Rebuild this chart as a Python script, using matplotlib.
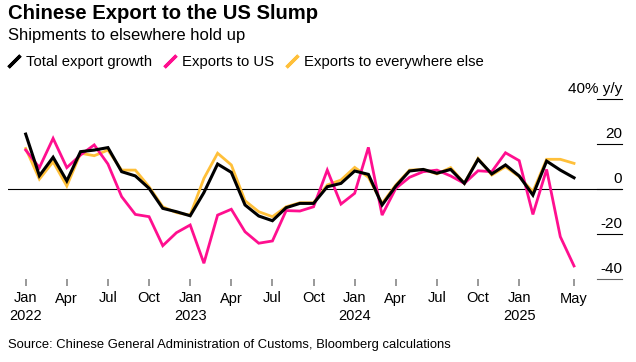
import pandas as pd
import matplotlib
matplotlib.use("Agg")
import matplotlib.pyplot as plt
from matplotlib.lines import Line2D
from matplotlib import transforms

plt.rcParams['font.family'] = ['Liberation Sans', 'DejaVu Sans']

# monthly, Jan 2022 - May 2025, % y/y
months = pd.date_range('2022-01-01', '2025-05-01', freq='MS')
total = [24.4, 5.9, 14.1, 3.6, 16.6, 17.3, 18.4, 7.7, 5.8, 0.3, -8.6, -10.1,
         -11.9, -1.6, 11.1, 7.4, -7.1, -12.0, -14.1, -8.3, -6.4, -6.4, 1.0, 2.5,
         8.0, 6.5, -7.1, 1.3, 8.0, 8.7, 7.0, 8.7, 2.5, 13.2, 6.7, 10.7,
         5.8, -2.7, 12.4, 8.4, 5.0]
to_us = [17.3, 9.5, 22.5, 9.5, 15.1, 19.6, 11.1, -3.4, -11.3, -12.3, -25.2, -19.4,
         -16.0, -33.0, -11.6, -9.0, -19.0, -24.1, -23.1, -9.6, -9.8, -7.9, 8.4, -6.7,
         -1.9, 18.5, -11.6, 0.3, 5.2, 7.7, 8.4, 5.8, 2.5, 8.1, 7.7, 16.1,
         12.6, -11.3, 8.7, -21.2, -34.2]
elsewhere = [18.0, 4.4, 12.1, 1.3, 15.9, 14.8, 17.3, 8.4, 8.4, 1.0, -7.9, -10.5,
             -11.6, 4.7, 15.9, 10.7, -5.2, -10.1, -12.3, -7.9, -6.1, -6.1, 1.8, 4.0,
             9.6, 5.2, -6.4, 1.8, 8.4, 8.7, 6.7, 9.5, 2.5, 13.6, 6.2, 9.9,
             5.5, -1.2, 13.2, 13.2, 11.4]

y_ticks = [40, 20, 0, -20, -40]
y_labels = ['40% y/y', '20', '0', '-20', '-40']
tick_idx = list(range(0, 37, 3)) + [40]

PINK = '#ff0f8f'
YELLOW = '#ffc03a'

fig = plt.figure(figsize=(6.36, 3.62), dpi=100)
ax = fig.add_axes([8/636, 1 - 279/362, 614/636, 180/362])

x = list(range(len(months)))
ax.plot(x, elsewhere, color=YELLOW, lw=2.0, solid_joinstyle='miter')
ax.plot(x, to_us, color=PINK, lw=2.0, solid_joinstyle='miter')
ax.plot(x, total, color='black', lw=2.2, solid_joinstyle='miter')

ax.set_xlim(-1.29, 43.5)
ax.set_ylim(-40, 40)
ax.axhline(0, color='black', lw=0.8, zorder=0)

for s in ax.spines.values():
    s.set_visible(False)

# y axis: short stubs on the right with labels sitting above them
trans = transforms.blended_transform_factory(ax.transAxes, ax.transData)
offset = transforms.offset_copy(trans, fig=fig, x=0, y=3, units='dots')
for v, lab in zip(y_ticks, y_labels):
    ax.plot([0.96, 1.0], [v, v], transform=trans, color='#666666' if v == -40 else 'black',
            lw=0.8, clip_on=False)
    ax.text(1.0, v, lab, transform=offset, ha='right', va='bottom', fontsize=11)
ax.set_yticks([])

labels = []
for i in tick_idx:
    m = months[i]
    lab = m.strftime('%b')
    if m.month == 1:
        lab += '\n' + str(m.year)
    labels.append(lab)
ax.set_xticks(tick_idx)
ax.set_xticklabels(labels, fontsize=10.5, linespacing=1.35, va='top')
ax.tick_params(axis='x', length=5, width=1.2, color='#888888', pad=4)

fig.text(8/636, 1 - 4/362, 'Chinese Export to the US Slump', fontsize=14.6,
         fontweight='bold', va='top')
fig.text(8/636, 1 - 28/362, 'Shipments to elsewhere hold up', fontsize=12, va='top')
fig.text(8/636, 1 - 345/362, 'Source: Chinese General Administration of Customs, Bloomberg calculations',
         fontsize=9.4, va='center')

handles = [Line2D([], [], color=c, marker=(2, 2, -45), linestyle='None',
                  markersize=12, markeredgewidth=2.4)
           for c in ['black', PINK, YELLOW]]
fig.legend(handles, ['Total export growth', 'Exports to US', 'Exports to everywhere else'],
           loc='center left', bbox_to_anchor=(3/636, 1 - 62/362), ncol=3, frameon=False,
           fontsize=10.7, handlelength=0.9, handletextpad=0.35, columnspacing=0.75,
           borderaxespad=0, borderpad=0.3)

fig.savefig('out.png', dpi=100)
